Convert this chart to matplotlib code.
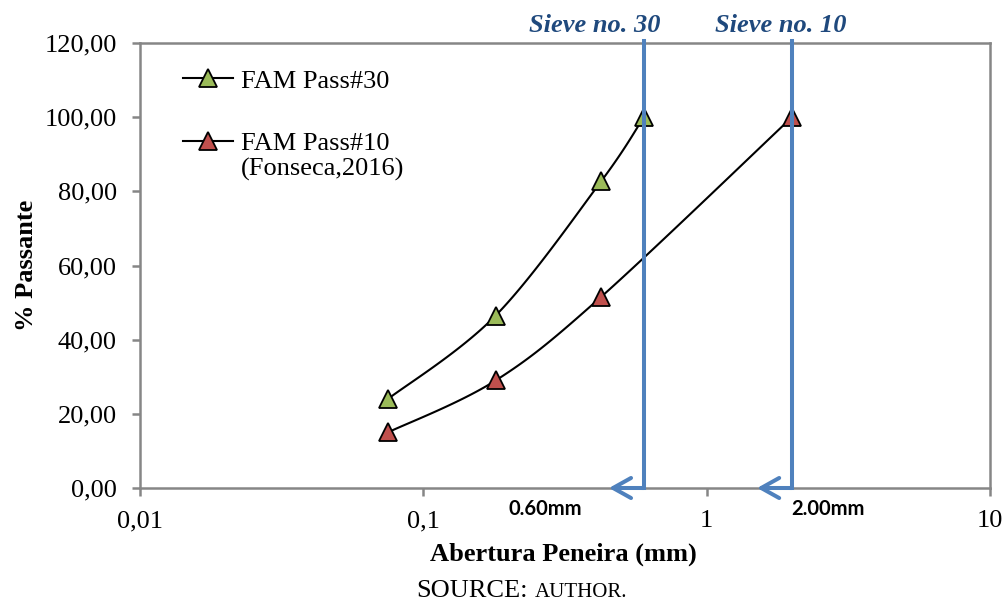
import matplotlib.pyplot as plt
import numpy as np
from matplotlib.lines import Line2D
from matplotlib.legend_handler import HandlerLine2D


# data
abertura30 = [0.075, 0.18, 0.425, 0.6]
passante30 = [24.0, 46.5, 82.8, 100.0]
abertura10 = [0.075, 0.18, 0.425, 2.0]
passante10 = [15.0, 29.0, 51.6, 100.0]

sieves = [0.6, 2.0]
sieve_titles = ['Sieve no. 30', 'Sieve no. 10']
sieve_sizes = ['0.60mm', '2.00mm']

xticks = [0.01, 0.1, 1, 10]
xtick_labels = ['0,01', '0,1', '1', '10']
yticks = [0, 20, 40, 60, 80, 100, 120]

green = '#9BBB59'
red = '#C0504D'
blue = '#4F81BD'
gray = '#868686'

plt.rcParams['font.family'] = ['Liberation Serif', 'DejaVu Serif']
plt.rcParams['font.size'] = 19


def smooth(x, y, n=40):
    # excel-like smoothed line (bezier through the points), in screen proportions
    u = (np.log10(x) + 2) / 3 * 850
    v = np.array(y) / 120 * 445
    P = np.column_stack([u, v])
    P = np.vstack([P[0], P, P[-1]])
    out = []
    for i in range(1, len(P) - 2):
        p0, p1, p2, p3 = P[i - 1], P[i], P[i + 1], P[i + 2]
        t = np.linspace(0, 1, n)[:, None]
        c1 = p1 + (p2 - p0) / 6
        c2 = p2 - (p3 - p1) / 6
        seg = (1 - t) ** 3 * p1 + 3 * (1 - t) ** 2 * t * c1 + 3 * (1 - t) * t ** 2 * c2 + t ** 3 * p2
        out.append(seg)
    out = np.vstack(out)
    return 10 ** (out[:, 0] / 850 * 3 - 2), out[:, 1] / 445 * 120


class FirstLineHandler(HandlerLine2D):
    # keep the legend sample on the first line of a two-line label
    def __init__(self, shift, **kw):
        super().__init__(**kw)
        self.shift = shift

    def create_artists(self, legend, orig_handle, xdescent, ydescent, width, height, fontsize, trans):
        arts = super().create_artists(legend, orig_handle, xdescent, ydescent, width, height, fontsize, trans)
        for a in arts:
            a.set_ydata(np.asarray(a.get_ydata(), dtype=float) + self.shift * fontsize)
        return arts


fig = plt.figure(figsize=(10.06, 6.01), dpi=100)
ax = fig.add_axes([140 / 1006, 1 - 488 / 601, 850 / 1006, 445 / 601])

mk = dict(marker='^', markersize=13.5, markeredgecolor='black', markeredgewidth=1.3, linestyle='none', zorder=4)
sx, sy = smooth(abertura30, passante30)
ax.plot(sx, sy, color='black', lw=1.5, zorder=3)
ax.plot(abertura30, passante30, markerfacecolor=green, **mk)
sx, sy = smooth(abertura10, passante10)
ax.plot(sx, sy, color='black', lw=1.5, zorder=3)
ax.plot(abertura10, passante10, markerfacecolor=red, **mk)

# sieve markers
title_dx = [-35, -8.4]
size_dx = [-71, 26]
for s, title, size, tdx, sdx in zip(sieves, sieve_titles, sieve_sizes, title_dx, size_dx):
    ax.plot([s, s], [0, 120.5], color=blue, lw=2.9, clip_on=False, zorder=5,
            solid_capstyle='projecting')
    ax.annotate('', xy=(s * 10 ** -0.123, 0), xytext=(s, 0),
                arrowprops=dict(arrowstyle='->, head_length=0.68, head_width=0.38',
                                color=blue, lw=2.9, shrinkA=0, shrinkB=0),
                annotation_clip=False, zorder=5)
    ax.annotate(title, xy=(s, 120), xytext=(tdx, 7.7), textcoords='offset points',
                ha='center', va='baseline', fontsize=19, fontweight='bold',
                fontstyle='italic', color='#1F497D', annotation_clip=False)
    ax.annotate(size, xy=(s, 0), xytext=(sdx, -19.4), textcoords='offset points',
                ha='center', va='baseline', fontsize=14.5, fontweight='bold',
                family='Lato', annotation_clip=False)

ax.set_xscale('log')
ax.set_xlim(0.01, 10)
ax.set_ylim(0, 120)
ax.set_xticks(xticks)
ax.set_xticklabels(xtick_labels)
ax.xaxis.set_minor_locator(plt.NullLocator())
ax.set_yticks(yticks)
ax.set_yticklabels([('%.2f' % v).replace('.', ',') for v in yticks])
ax.tick_params(axis='both', direction='out', length=6, width=1.8, color=gray, labelsize=19)
ax.tick_params(axis='y', pad=10.8)
ax.tick_params(axis='x', pad=10)
for sp in ax.spines.values():
    sp.set_color(gray)
    sp.set_linewidth(1.8)

ax.set_xlabel('Abertura Peneira (mm)', fontweight='bold', fontsize=19)
ax.xaxis.set_label_coords(0.4976, -0.123)
ax.xaxis.label.set_va('top')
ax.set_ylabel('% Passante', fontweight='bold', fontsize=19)
ax.yaxis.set_label_coords(-0.12, 0.5)

h30 = Line2D([], [], color='black', lw=1.5, marker='^', markersize=13.5,
             markerfacecolor=green, markeredgecolor='black', markeredgewidth=1.3)
h10 = Line2D([], [], color='black', lw=1.5, marker='^', markersize=13.5,
             markerfacecolor=red, markeredgecolor='black', markeredgewidth=1.3)
leg = ax.legend([h30, h10], ['FAM Pass#30', 'FAM Pass#10\n(Fonseca,2016)'],
                loc='upper left', bbox_to_anchor=(0.0506, 0.9415), frameon=False,
                fontsize=19, handlelength=1.9, handletextpad=0.28, labelspacing=1.55,
                borderpad=0, borderaxespad=0,
                handler_map={h10: FirstLineHandler(0.6)})
leg.texts[1].set_linespacing(1.13)

fig.text(528 / 1006, 1 - 597 / 601, 'SOURCE:', ha='right', va='baseline', fontsize=19)
fig.text(535 / 1006, 1 - 597 / 601, 'AUTHOR.', ha='left', va='baseline', fontsize=15)

fig.savefig('out.png', dpi=100)
